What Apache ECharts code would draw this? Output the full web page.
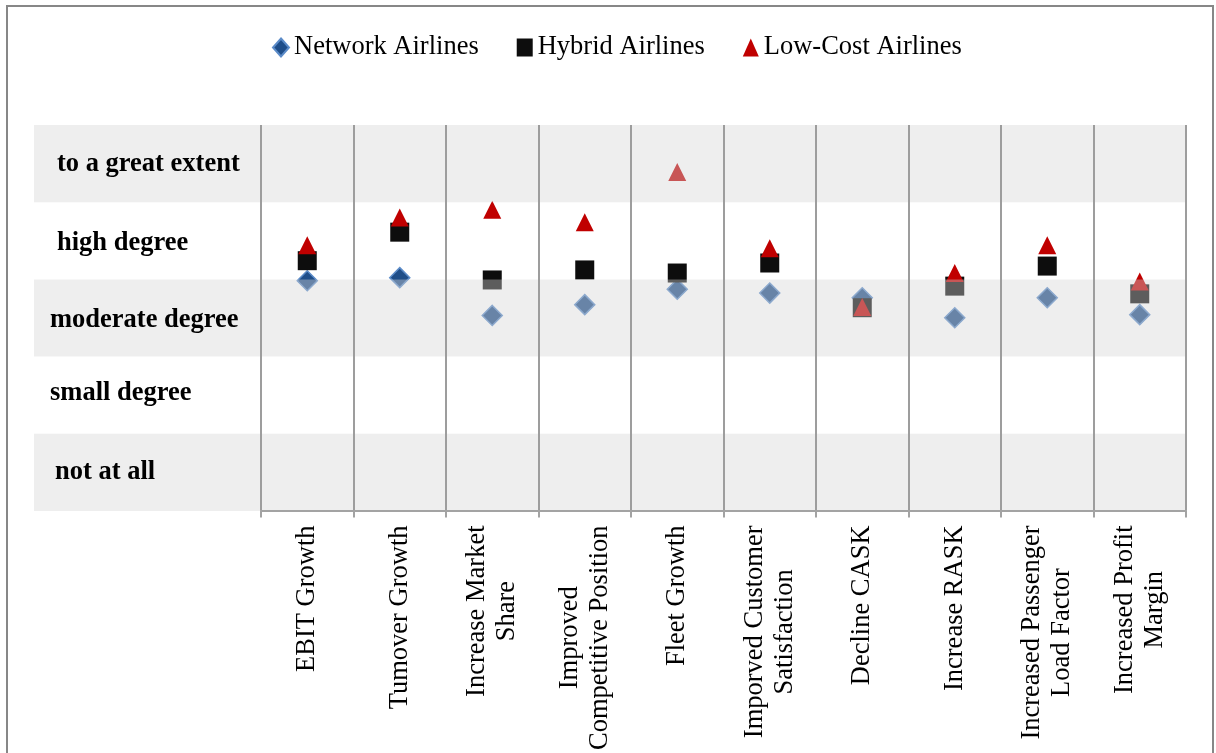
<!DOCTYPE html>
<html><head><meta charset="utf-8">
<script src="https://cdn.jsdelivr.net/npm/echarts@6/dist/echarts.min.js"></script>
<style>html,body{margin:0;padding:0;background:#fff}#c{width:1216px;height:753px}</style>
</head><body><div id="c"></div>
<script>
const categories = ['EBIT Growth','Tumover Growth','Increase Market\nShare','Improved\nCompetitive Position','Fleet Growth','Imporved Customer\nSatisfaction','Decline CASK','Increase RASK','Increased Passenger\nLoad Factor','Increased Profit\nMargin'];
const networkAirlines = [3.48,3.52,3.03,3.17,3.37,3.32,3.26,3.00,3.26,3.04];
const hybridAirlines  = [3.74,4.11,3.49,3.62,3.58,3.71,3.13,3.41,3.67,3.31];
const lowCostAirlines = [3.94,4.30,4.40,4.24,4.89,3.90,3.14,3.58,3.94,3.47];
const levelLabels = ['not at all','small degree','moderate degree','high degree','to a great extent'];
const shadedBands = [[4.5,5.5],[2.5,3.5],[0.5,1.5]];

const FONT = 'Liberation Serif';
const FS = 26.5;
const chart = echarts.init(document.getElementById('c'), null, {renderer:'canvas'});

function lvl(pad){return {fontFamily:FONT,fontSize:FS,fontWeight:'bold',color:'#000',padding:pad};}
const levelRich = {
  r1:lvl([0,0,0,5]),
  r2:lvl([0,0,4,0]),
  r3:lvl([4,0,0,0]),
  r4:lvl([4,0,0,7]),
  r5:lvl([2,0,0,7])
};

const option = {
  backgroundColor:'#ffffff',
  animation:false,
  graphic:[{type:'rect', z:100, silent:true,
    shape:{x:7,y:6,width:1206,height:800},
    style:{fill:'none',stroke:'#878787',lineWidth:2}}],
  legend:{
    top:29, left:267, itemGap:38, itemWidth:16, itemHeight:18,
    textStyle:{fontFamily:FONT,fontSize:FS,color:'#000'},
    data:['Network Airlines','Hybrid Airlines','Low-Cost Airlines']
  },
  grid:[
    {left:34,right:30,top:125,bottom:242},
    {left:261,right:30,top:125,bottom:242}
  ],
  xAxis:[
    {gridIndex:0,type:'value',min:0,max:1,show:false},
    {gridIndex:1,type:'category',data:categories,boundaryGap:true,z:20,
     axisLine:{show:true,lineStyle:{color:'#a3a3a3',width:2}},
     axisTick:{show:true,length:7,interval:0,lineStyle:{color:'#a3a3a3',width:2}},
     splitLine:{show:true,interval:0,lineStyle:{color:'#9d9d9d',width:2}},
     axisLabel:{interval:0,rotate:90,margin:15,fontFamily:FONT,fontSize:FS,color:'#000',lineHeight:30,
       formatter:function(v){return v.split('\n').map(function(s){return '{c|'+s+'}';}).join('\n');},
       rich:{c:{align:'center',fontFamily:FONT,fontSize:FS,color:'#000',lineHeight:30}}}
    }
  ],
  yAxis:[
    {gridIndex:0,type:'value',min:0.5,max:5.5,interval:0.5,z:20,
     axisLine:{show:false},axisTick:{show:false},splitLine:{show:false},
     axisLabel:{inside:true,margin:16,fontFamily:FONT,fontSize:FS,fontWeight:'bold',color:'#000',
       formatter:function(v){
         if(Math.abs(v-Math.round(v))>1e-6) return '';
         const i=Math.round(v);
         if(i<1||i>5) return '';
         return '{r'+i+'|'+levelLabels[i-1]+'}';
       },
       rich:levelRich}
    },
    {gridIndex:1,type:'value',min:0.5,max:5.5,show:false,splitLine:{show:false}}
  ],
  series:[
    {name:'Network Airlines',type:'scatter',xAxisIndex:1,yAxisIndex:1,z:2,
     symbol:'diamond',symbolSize:20,
     itemStyle:{color:'#1F4E89',borderColor:'#5B8BC8',borderWidth:1.5,opacity:1},
     data:networkAirlines},
    {name:'Hybrid Airlines',type:'scatter',xAxisIndex:1,yAxisIndex:1,z:3,
     symbol:'rect',symbolSize:19,
     itemStyle:{color:'#0D0D0D',opacity:1},
     data:hybridAirlines},
    {name:'Low-Cost Airlines',type:'scatter',xAxisIndex:1,yAxisIndex:1,z:4,
     symbol:'triangle',symbolSize:[18,18],
     itemStyle:{color:'#C00000',opacity:1},
     data:lowCostAirlines},
    {name:'bands',type:'custom',xAxisIndex:0,yAxisIndex:0,z:10,silent:true,
     encode:{x:0,y:[1,2]},
     data:shadedBands.map(function(b){return [0,b[0],b[1]];}),
     renderItem:function(params,api){
       const p1=api.coord([0,api.value(2)]);
       const p2=api.coord([1,api.value(1)]);
       return {type:'rect',shape:{x:p1[0],y:p1[1],width:p2[0]-p1[0],height:p2[1]-p1[1]},
               style:{fill:'rgba(213,213,213,0.405)'}};
     }}
  ]
};
chart.setOption(option);
</script>
</body></html>
